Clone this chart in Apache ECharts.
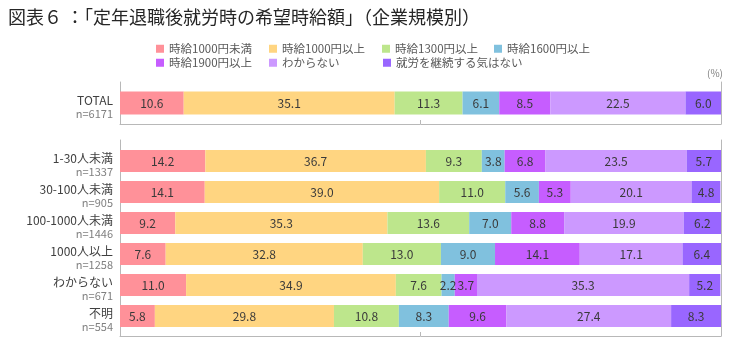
<!DOCTYPE html>
<html>
<head>
<meta charset="utf-8">
<style>
html,body{margin:0;padding:0;background:#fff;}
#main{width:750px;height:350px;}
</style>
</head>
<body>
<div id="main"></div>
<script src="https://cdn.jsdelivr.net/npm/echarts@6/dist/echarts.min.js"></script>
<script type="text/javascript">
// 区分・n数
var categories = ['TOTAL', '1-30人未満', '30-100人未満', '100-1000人未満', '1000人以上', 'わからない', '不明'];
var counts = [6171, 1337, 905, 1446, 1258, 671, 554];
var seriesNames = ['時給1000円未満', '時給1000円以上', '時給1300円以上', '時給1600円以上', '時給1900円以上', 'わからない', '就労を継続する気はない'];
var colors = ['#FF9199', '#FFD581', '#BDE68C', '#80C1DE', '#C65DFF', '#CC99FF', '#9966FF'];

// 各区分の値（%）
var lt1000 = [10.6, 14.2, 14.1, 9.2, 7.6, 11.0, 5.8];
var ge1000 = [35.1, 36.7, 39.0, 35.3, 32.8, 34.9, 29.8];
var ge1300 = [11.3, 9.3, 11.0, 13.6, 13.0, 7.6, 10.8];
var ge1600 = [6.1, 3.8, 5.6, 7.0, 9.0, 2.2, 8.3];
var ge1900 = [8.5, 6.8, 5.3, 8.8, 14.1, 3.7, 9.6];
var unknown = [22.5, 23.5, 20.1, 19.9, 17.1, 35.3, 27.4];
var noWork = [6.0, 5.7, 4.8, 6.2, 6.4, 5.2, 8.3];
var values = [lt1000, ge1000, ge1300, ge1600, ge1900, unknown, noWork];

var font = '"Noto Sans CJK JP", "Noto Sans", sans-serif';
var lineColor = '#b8b8b8';

function catLabel(v) {
    var i = categories.indexOf(v);
    return '{a|' + v + '}\n{b|n=' + counts[i] + '}';
}

var yLabel = {
    margin: 7,
    padding: [8, 0, 0, 0],
    formatter: catLabel,
    rich: {
        a: {fontFamily: font, fontSize: 12, color: '#404040', lineHeight: 13, align: 'right'},
        b: {fontFamily: font, fontSize: 11, color: '#808080', lineHeight: 13, align: 'right'}
    }
};

function frameX(gi, show) {
    return {
        gridIndex: gi, type: 'value', min: 0, max: 100, interval: 50,
        axisLine: {show: show, lineStyle: {color: lineColor}},
        axisTick: {show: show, inside: true, length: 4, lineStyle: {color: lineColor}},
        axisLabel: {show: false}, splitLine: {show: false}
    };
}

// 凡例は1項目ずつ配置
var legendPos = [[151, 38], [264, 38], [377, 38], [489, 38], [151, 52], [264, 52], [378, 52]];
var legends = seriesNames.map(function (name, k) {
    return {
        data: [name], left: legendPos[k][0], top: legendPos[k][1],
        itemWidth: 8, itemHeight: 8, icon: 'rect', itemGap: 0,
        textStyle: {fontFamily: font, fontSize: 11.5, color: '#595959'}
    };
});

var series = [];
seriesNames.forEach(function (name, k) {
    var lbl = {
        show: true, position: 'inside', color: '#3a3a3a', fontSize: 12, fontFamily: font,
        formatter: function (p) { return p.value.toFixed(1); }
    };
    series.push({
        name: name, type: 'bar', stack: 'top', xAxisIndex: 0, yAxisIndex: 0,
        barWidth: 23, itemStyle: {color: colors[k]}, label: lbl,
        data: values[k].slice(0, 1)
    });
    series.push({
        name: name, type: 'bar', stack: 'bottom', xAxisIndex: 1, yAxisIndex: 2,
        barWidth: 22, itemStyle: {color: colors[k]}, label: lbl,
        data: values[k].slice(1)
    });
});

var myChart = echarts.init(document.getElementById('main'));
var option = {
    backgroundColor: '#fff',
    animation: false,
    title: {
        text: '図表６ ：「定年退職後就労時の希望時給額」（企業規模別）',
        left: 3, top: 3,
        textStyle: {fontFamily: font, fontSize: 18, fontWeight: 'normal', color: '#262626'}
    },
    legend: legends,
    grid: [
        {left: 120, right: 29, top: 82, height: 42},
        {left: 120, right: 29, top: 145.5, height: 186},
        {left: 120, right: 29, top: 140, height: 196}
    ],
    xAxis: [
        frameX(0, true),
        frameX(1, false),
        frameX(2, true)
    ],
    yAxis: [
        {
            gridIndex: 0, type: 'category', inverse: true, data: categories.slice(0, 1),
            axisLine: {show: true, lineStyle: {color: lineColor}}, axisTick: {show: false},
            axisLabel: yLabel
        },
        {
            gridIndex: 0, type: 'category', position: 'right', data: categories.slice(0, 1),
            name: '(%)', nameLocation: 'end', nameGap: 4,
            nameTextStyle: {fontFamily: font, fontSize: 10, color: '#7f7f7f', align: 'right', padding: [0, -2, 0, 0]},
            axisLine: {show: true, lineStyle: {color: lineColor}}, axisTick: {show: false}, axisLabel: {show: false}
        },
        {
            gridIndex: 1, type: 'category', inverse: true, data: categories.slice(1),
            axisLine: {show: false}, axisTick: {show: false},
            axisLabel: yLabel
        },
        {
            gridIndex: 2, type: 'value', min: 0, max: 1,
            axisLine: {show: true, lineStyle: {color: lineColor}}, axisTick: {show: false},
            axisLabel: {show: false}, splitLine: {show: false}
        },
        {
            gridIndex: 2, type: 'value', min: 0, max: 1, position: 'right',
            axisLine: {show: true, lineStyle: {color: lineColor}}, axisTick: {show: false},
            axisLabel: {show: false}, splitLine: {show: false}
        }
    ],
    series: series
};
myChart.setOption(option);
</script>
</body>
</html>
